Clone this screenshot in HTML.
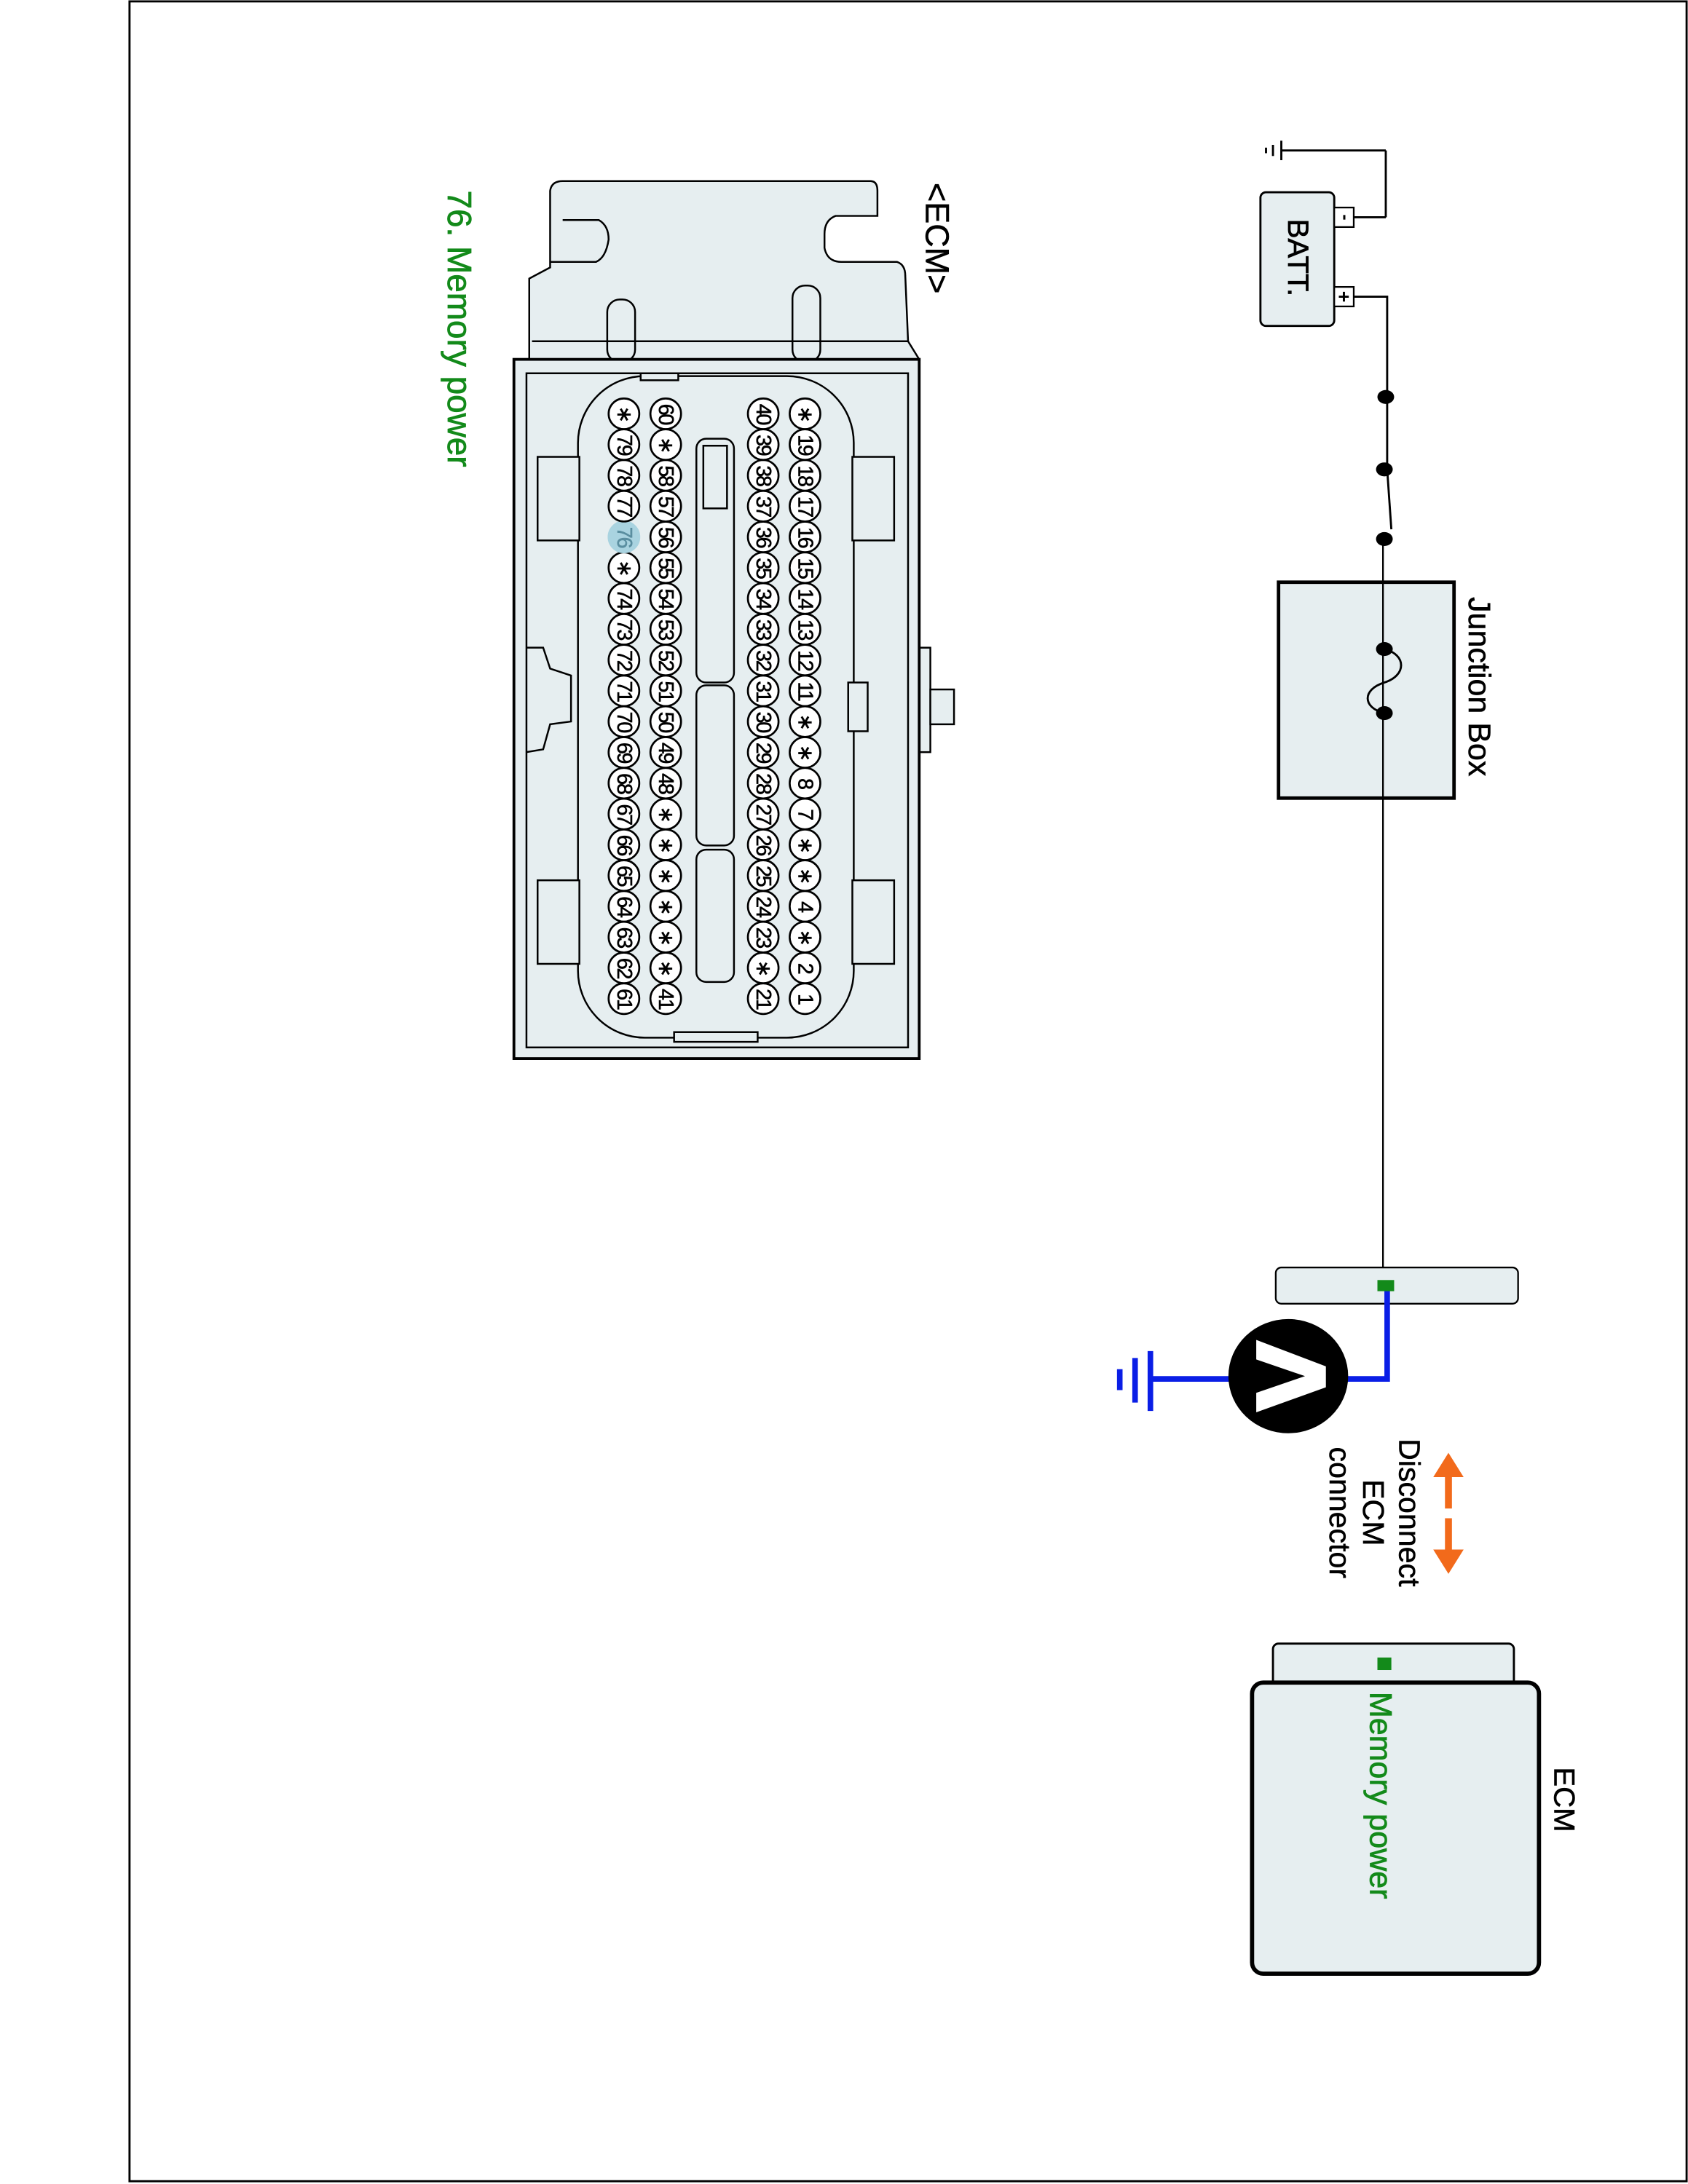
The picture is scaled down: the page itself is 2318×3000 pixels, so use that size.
<!DOCTYPE html>
<html><head><meta charset="utf-8"><style>
html,body{margin:0;padding:0;background:#fff}
svg{display:block}
text{font-family:"Liberation Sans",sans-serif}
.p circle{fill:#fff;stroke:#000;stroke-width:1.4}
.p text{font-size:15px;text-anchor:middle;dominant-baseline:central;letter-spacing:-1.2px;stroke:#000;stroke-width:0.3}
</style></head><body>
<svg width="2318" height="3000" viewBox="0 0 1212 1568" preserveAspectRatio="none" xmlns="http://www.w3.org/2000/svg">
<rect x="93" y="1" width="1118" height="1565" fill="#fff" stroke="#000" stroke-width="1.5"/>

<!-- Battery -->
<line x1="995" y1="156" x2="995" y2="108" stroke="#000" stroke-width="1.5"/>
<line x1="995" y1="108" x2="920" y2="108" stroke="#000" stroke-width="1.5"/>
<line x1="920" y1="101" x2="920" y2="115" stroke="#000" stroke-width="1.5"/>
<line x1="914" y1="104" x2="914" y2="112" stroke="#000" stroke-width="1.5"/>
<line x1="909" y1="106" x2="909" y2="110" stroke="#000" stroke-width="1.5"/>
<line x1="972" y1="156" x2="995" y2="156" stroke="#000" stroke-width="1.5"/>
<rect x="905" y="138" width="53" height="96" rx="4" fill="#e6eef0" stroke="#000" stroke-width="1.5"/>
<rect x="958" y="149" width="14" height="14" fill="#fff" stroke="#000" stroke-width="1.2"/>
<rect x="958" y="206" width="14" height="14" fill="#fff" stroke="#000" stroke-width="1.2"/>
<text transform="translate(966,156) rotate(90)" font-size="13" font-weight="bold" text-anchor="middle" dominant-baseline="central">-</text>
<text transform="translate(965,213) rotate(90)" font-size="14" font-weight="bold" text-anchor="middle" dominant-baseline="central">+</text>
<text transform="translate(932,185) rotate(90)" font-size="21" text-anchor="middle" dominant-baseline="central" stroke="#000" stroke-width="0.4">BATT.</text>
<polyline points="972,213 996,213 996,337" fill="none" stroke="#000" stroke-width="1.5"/>
<line x1="996" y1="337" x2="999" y2="380" stroke="#000" stroke-width="1.5"/>
<line x1="993" y1="387" x2="993" y2="913" stroke="#000" stroke-width="1.2"/>
<ellipse cx="995" cy="285" rx="6" ry="5"/>
<ellipse cx="994" cy="337" rx="6" ry="5"/>
<ellipse cx="994" cy="387" rx="6" ry="5"/>

<!-- Junction box -->
<rect x="918" y="418" width="126" height="155" fill="#e6eef0" stroke="#000" stroke-width="2.5"/>
<line x1="993" y1="418" x2="993" y2="573" stroke="#000" stroke-width="1.2"/>
<path d="M994,466 C1010,470 1010,485 994,490 C978,495 978,508 994,512" fill="none" stroke="#000" stroke-width="1.5"/>
<ellipse cx="994" cy="466" rx="6" ry="5"/>
<ellipse cx="994" cy="512" rx="6" ry="5"/>
<text transform="translate(1062,493) rotate(90)" font-size="22.5" text-anchor="middle" dominant-baseline="central" stroke="#000" stroke-width="0.3">Junction Box</text>

<!-- Connector bar -->
<rect x="916" y="910" width="174" height="26" rx="4" fill="#e6eef0" stroke="#000" stroke-width="1.2"/>
<polyline points="996,926 996,990 960,990" fill="none" stroke="#0a1ee6" stroke-width="4"/>
<line x1="888" y1="990" x2="826" y2="990" stroke="#0a1ee6" stroke-width="4"/>
<line x1="826" y1="970" x2="826" y2="1013" stroke="#0a1ee6" stroke-width="4"/>
<line x1="815" y1="975" x2="815" y2="1007" stroke="#0a1ee6" stroke-width="4"/>
<line x1="804" y1="983" x2="804" y2="998" stroke="#0a1ee6" stroke-width="4"/>
<rect x="989" y="919" width="12" height="8" fill="#138a1a"/>
<ellipse cx="925" cy="988" rx="43" ry="41" fill="#000"/>
<polygon points="902,962 952,981 952,996 902,1014 902,1000 937,988 902,976" fill="#fff"/>

<!-- arrows -->
<g fill="#f26a1b" stroke="#f26a1b">
<line x1="1040" y1="1056" x2="1040" y2="1083" stroke-width="5"/>
<polygon points="1030,1060 1040,1044 1050,1060"/>
<line x1="1040" y1="1090" x2="1040" y2="1117" stroke-width="5"/>
<polygon points="1030,1113 1040,1129 1050,1113"/>
</g>
<g font-size="21.5" text-anchor="middle" dominant-baseline="central" stroke="#000" stroke-width="0.3">
<text transform="translate(1012,1086) rotate(90)">Disconnect</text>
<text transform="translate(986,1086) rotate(90)">ECM</text>
<text transform="translate(962,1086) rotate(90)">connector</text>
</g>

<!-- ECM -->
<rect x="914" y="1180" width="173" height="34" rx="4" fill="#e6eef0" stroke="#000" stroke-width="1.5"/>
<rect x="899" y="1208" width="206" height="209" rx="8" fill="#e6eef0" stroke="#000" stroke-width="3"/>
<rect x="989" y="1190" width="10" height="9" fill="#138a1a"/>
<text transform="translate(991,1289) rotate(90)" font-size="22.5" fill="#138a1a" text-anchor="middle" dominant-baseline="central" stroke="#138a1a" stroke-width="0.4">Memory power</text>
<text transform="translate(1123,1292) rotate(90)" font-size="21" text-anchor="middle" dominant-baseline="central" stroke="#000" stroke-width="0.3">ECM</text>

<!-- Left labels -->
<text transform="translate(673,171) rotate(90)" font-size="23.5" text-anchor="middle" dominant-baseline="central" stroke="#000" stroke-width="0.3">&lt;ECM&gt;</text>
<text transform="translate(330,236) rotate(90)" font-size="24" fill="#138a1a" text-anchor="middle" dominant-baseline="central" stroke="#138a1a" stroke-width="0.4">76. Memory power</text>

<!-- Connector body -->
<g fill="#e6eef0" stroke="#000" stroke-width="1.3">
<path d="M380,258 L380,200 L395,192 L395,137 Q396,130 404,130 L625,130 Q630,130 630,137 L630,155 L600,155 Q592,158 592,168 L592,178 Q594,188 604,188 L644,188 Q650,190 650,198 L652,245 L660,258 Z"/>
<path d="M404,158 L430,158 Q437,162 437,172 Q435,185 428,188 L395,188" fill="none"/>
<rect x="436" y="215" width="20" height="45" rx="9"/>
<rect x="569" y="205" width="20" height="55" rx="9"/>
<line x1="382" y1="245" x2="652" y2="245"/>
<rect x="660" y="465" width="8" height="75"/>
<rect x="668" y="495" width="17" height="25"/>
<rect x="369" y="258" width="291" height="502" stroke-width="2"/>
<rect x="378" y="268" width="274" height="484" fill="none"/>
<rect x="415" y="270" width="198" height="475" rx="48"/>
<rect x="386" y="328" width="30" height="60" />
<rect x="612" y="328" width="30" height="60" />
<rect x="386" y="632" width="30" height="60" />
<rect x="612" y="632" width="30" height="60" />
<rect x="609" y="490" width="14" height="35" />
<path d="M378,465 L390,465 L395,480 L410,485 L410,518 L395,520 L390,538 L378,540" fill="none"/>
<rect x="460" y="268" width="27" height="5" />
<rect x="484" y="741" width="60" height="7" />
<rect x="500" y="315" width="27" height="175" rx="7"/>
<rect x="500" y="492" width="27" height="115" rx="7"/>
<rect x="500" y="610" width="27" height="95" rx="7"/>
<rect x="505" y="320" width="17" height="45" fill="none"/>
</g>

<g class="p">
<g transform="translate(578,717) rotate(90)"><circle r="11"/><text>1</text></g>
<g transform="translate(578,694.9) rotate(90)"><circle r="11"/><text>2</text></g>
<g transform="translate(578,672.8) rotate(90)"><circle r="11"/><text>∗</text></g>
<g transform="translate(578,650.7) rotate(90)"><circle r="11"/><text>4</text></g>
<g transform="translate(578,628.6) rotate(90)"><circle r="11"/><text>∗</text></g>
<g transform="translate(578,606.5) rotate(90)"><circle r="11"/><text>∗</text></g>
<g transform="translate(578,584.4) rotate(90)"><circle r="11"/><text>7</text></g>
<g transform="translate(578,562.3) rotate(90)"><circle r="11"/><text>8</text></g>
<g transform="translate(578,540.2) rotate(90)"><circle r="11"/><text>∗</text></g>
<g transform="translate(578,518.1) rotate(90)"><circle r="11"/><text>∗</text></g>
<g transform="translate(578,496) rotate(90)"><circle r="11"/><text>11</text></g>
<g transform="translate(578,473.9) rotate(90)"><circle r="11"/><text>12</text></g>
<g transform="translate(578,451.8) rotate(90)"><circle r="11"/><text>13</text></g>
<g transform="translate(578,429.7) rotate(90)"><circle r="11"/><text>14</text></g>
<g transform="translate(578,407.6) rotate(90)"><circle r="11"/><text>15</text></g>
<g transform="translate(578,385.5) rotate(90)"><circle r="11"/><text>16</text></g>
<g transform="translate(578,363.4) rotate(90)"><circle r="11"/><text>17</text></g>
<g transform="translate(578,341.3) rotate(90)"><circle r="11"/><text>18</text></g>
<g transform="translate(578,319.2) rotate(90)"><circle r="11"/><text>19</text></g>
<g transform="translate(578,297.1) rotate(90)"><circle r="11"/><text>∗</text></g>
<g transform="translate(548,717) rotate(90)"><circle r="11"/><text>21</text></g>
<g transform="translate(548,694.9) rotate(90)"><circle r="11"/><text>∗</text></g>
<g transform="translate(548,672.8) rotate(90)"><circle r="11"/><text>23</text></g>
<g transform="translate(548,650.7) rotate(90)"><circle r="11"/><text>24</text></g>
<g transform="translate(548,628.6) rotate(90)"><circle r="11"/><text>25</text></g>
<g transform="translate(548,606.5) rotate(90)"><circle r="11"/><text>26</text></g>
<g transform="translate(548,584.4) rotate(90)"><circle r="11"/><text>27</text></g>
<g transform="translate(548,562.3) rotate(90)"><circle r="11"/><text>28</text></g>
<g transform="translate(548,540.2) rotate(90)"><circle r="11"/><text>29</text></g>
<g transform="translate(548,518.1) rotate(90)"><circle r="11"/><text>30</text></g>
<g transform="translate(548,496) rotate(90)"><circle r="11"/><text>31</text></g>
<g transform="translate(548,473.9) rotate(90)"><circle r="11"/><text>32</text></g>
<g transform="translate(548,451.8) rotate(90)"><circle r="11"/><text>33</text></g>
<g transform="translate(548,429.7) rotate(90)"><circle r="11"/><text>34</text></g>
<g transform="translate(548,407.6) rotate(90)"><circle r="11"/><text>35</text></g>
<g transform="translate(548,385.5) rotate(90)"><circle r="11"/><text>36</text></g>
<g transform="translate(548,363.4) rotate(90)"><circle r="11"/><text>37</text></g>
<g transform="translate(548,341.3) rotate(90)"><circle r="11"/><text>38</text></g>
<g transform="translate(548,319.2) rotate(90)"><circle r="11"/><text>39</text></g>
<g transform="translate(548,297.1) rotate(90)"><circle r="11"/><text>40</text></g>
<g transform="translate(478,717) rotate(90)"><circle r="11"/><text>41</text></g>
<g transform="translate(478,694.9) rotate(90)"><circle r="11"/><text>∗</text></g>
<g transform="translate(478,672.8) rotate(90)"><circle r="11"/><text>∗</text></g>
<g transform="translate(478,650.7) rotate(90)"><circle r="11"/><text>∗</text></g>
<g transform="translate(478,628.6) rotate(90)"><circle r="11"/><text>∗</text></g>
<g transform="translate(478,606.5) rotate(90)"><circle r="11"/><text>∗</text></g>
<g transform="translate(478,584.4) rotate(90)"><circle r="11"/><text>∗</text></g>
<g transform="translate(478,562.3) rotate(90)"><circle r="11"/><text>48</text></g>
<g transform="translate(478,540.2) rotate(90)"><circle r="11"/><text>49</text></g>
<g transform="translate(478,518.1) rotate(90)"><circle r="11"/><text>50</text></g>
<g transform="translate(478,496) rotate(90)"><circle r="11"/><text>51</text></g>
<g transform="translate(478,473.9) rotate(90)"><circle r="11"/><text>52</text></g>
<g transform="translate(478,451.8) rotate(90)"><circle r="11"/><text>53</text></g>
<g transform="translate(478,429.7) rotate(90)"><circle r="11"/><text>54</text></g>
<g transform="translate(478,407.6) rotate(90)"><circle r="11"/><text>55</text></g>
<g transform="translate(478,385.5) rotate(90)"><circle r="11"/><text>56</text></g>
<g transform="translate(478,363.4) rotate(90)"><circle r="11"/><text>57</text></g>
<g transform="translate(478,341.3) rotate(90)"><circle r="11"/><text>58</text></g>
<g transform="translate(478,319.2) rotate(90)"><circle r="11"/><text>∗</text></g>
<g transform="translate(478,297.1) rotate(90)"><circle r="11"/><text>60</text></g>
<g transform="translate(448,717) rotate(90)"><circle r="11"/><text>61</text></g>
<g transform="translate(448,694.9) rotate(90)"><circle r="11"/><text>62</text></g>
<g transform="translate(448,672.8) rotate(90)"><circle r="11"/><text>63</text></g>
<g transform="translate(448,650.7) rotate(90)"><circle r="11"/><text>64</text></g>
<g transform="translate(448,628.6) rotate(90)"><circle r="11"/><text>65</text></g>
<g transform="translate(448,606.5) rotate(90)"><circle r="11"/><text>66</text></g>
<g transform="translate(448,584.4) rotate(90)"><circle r="11"/><text>67</text></g>
<g transform="translate(448,562.3) rotate(90)"><circle r="11"/><text>68</text></g>
<g transform="translate(448,540.2) rotate(90)"><circle r="11"/><text>69</text></g>
<g transform="translate(448,518.1) rotate(90)"><circle r="11"/><text>70</text></g>
<g transform="translate(448,496) rotate(90)"><circle r="11"/><text>71</text></g>
<g transform="translate(448,473.9) rotate(90)"><circle r="11"/><text>72</text></g>
<g transform="translate(448,451.8) rotate(90)"><circle r="11"/><text>73</text></g>
<g transform="translate(448,429.7) rotate(90)"><circle r="11"/><text>74</text></g>
<g transform="translate(448,407.6) rotate(90)"><circle r="11"/><text>∗</text></g>
<g transform="translate(448,385.5) rotate(90)"><circle r="11" style="fill:#a9d3e0;stroke:#a9d3e0"/><text fill="#5a8ea0" style="stroke:#5a8ea0">76</text></g>
<g transform="translate(448,363.4) rotate(90)"><circle r="11"/><text>77</text></g>
<g transform="translate(448,341.3) rotate(90)"><circle r="11"/><text>78</text></g>
<g transform="translate(448,319.2) rotate(90)"><circle r="11"/><text>79</text></g>
<g transform="translate(448,297.1) rotate(90)"><circle r="11"/><text>∗</text></g>
</g>
</svg>
</body></html>
